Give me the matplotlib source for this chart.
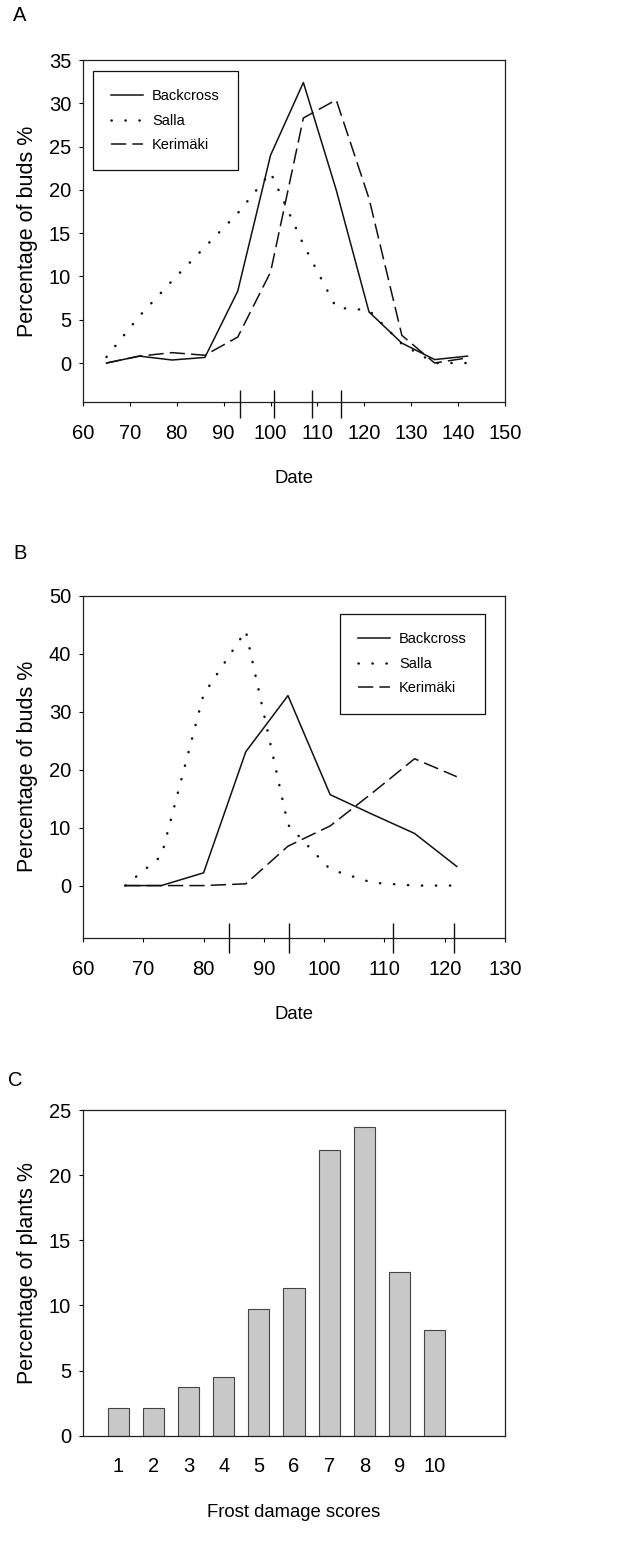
import matplotlib
matplotlib.use("Agg")
import matplotlib.pyplot as plt

plt.rcParams['font.family'] = ['Liberation Sans', 'DejaVu Sans']

# panel A - bud burst dates
dates_a = [65, 72, 79, 86, 93, 100, 107, 114, 121, 128, 135, 142]
backcross_a = [0, 0.8, 0.35, 0.65, 8.3, 24.0, 32.4, 20.0, 5.9, 2.3, 0.4, 0.8]
salla_a = [0.7, 5.4, 9.5, 13.4, 17.3, 22.0, 13.7, 6.4, 6.1, 2.2, 0, 0]
kerimaki_a = [0, 0.8, 1.2, 0.9, 3.0, 10.5, 28.3, 30.4, 19.0, 3.2, 0, 0.6]
marks_a = [93.5, 100.7, 108.8, 115]

# panel B
dates_b = [67, 73, 80, 87, 94, 101, 108, 115, 122]
backcross_b = [0, 0, 2.2, 23.1, 32.8, 15.7, 12.3, 9.0, 3.3]
salla_b = [0, 5.1, 33.0, 44.0, 10.5, 2.8, 0.5, 0, 0]
kerimaki_b = [0, 0, 0, 0.3, 6.8, 10.3, 16.0, 21.9, 18.8]
marks_b = [84.3, 94.2, 111.5, 121.5]

# panel C - frost damage
scores = [1, 2, 3, 4, 5, 6, 7, 8, 9, 10]
plants_pct = [2.1, 2.1, 3.7, 4.5, 9.7, 11.3, 21.9, 23.7, 12.6, 8.1]

W, H = 637, 1548
fig = plt.figure(figsize=(W / 100, H / 100), dpi=100)

def box(l, t, r, b):
    return [l / W, 1 - b / H, (r - l) / W, (b - t) / H]

def style(ax, xpad):
    for s in ax.spines.values():
        s.set_linewidth(0.9)
        s.set_color('#222222')
    ax.tick_params(labelsize=14.5, length=3, width=0.8, direction='out')
    ax.tick_params(axis='x', pad=xpad)
    ax.tick_params(axis='y', pad=5.5)

def lines(ax, x, bc, sa, ke):
    ax.plot(x, bc, color='#111111', lw=1.1, label='Backcross')
    ax.plot(x, sa, color='#111111', lw=1.8, linestyle=(0, (0.1, 5.5)),
            dash_capstyle='round', label='Salla')
    ax.plot(x, ke, color='#111111', lw=1.1, linestyle=(0, (10, 4)),
            label='Kerimäki')

def legend(ax, anchor):
    leg = ax.legend(loc='upper left', bbox_to_anchor=anchor, borderaxespad=0,
                    fancybox=False, edgecolor='#111111', framealpha=1,
                    fontsize=10.5, handlelength=2.2, handletextpad=0.6,
                    labelspacing=0.72, borderpad=1.25)
    leg.get_frame().set_linewidth(0.9)

def labels(ax, ylab, xlab, xy):
    ax.set_ylabel(ylab, fontsize=15.5)
    ax.yaxis.set_label_coords(-0.107, 0.5)
    ax.set_xlabel(xlab, fontsize=13.3, va='top')
    ax.xaxis.set_label_coords(0.5, xy)

# A
ax = fig.add_axes(box(83, 60, 505, 402))
lines(ax, dates_a, backcross_a, salla_a, kerimaki_a)
ax.vlines(marks_a, -0.047, 0.035, transform=ax.get_xaxis_transform(),
          color='#111111', lw=1.0, clip_on=False)
ax.set_xlim(60, 150)
ax.set_ylim(-4.5, 35)
ax.set_xticks(range(60, 151, 10))
ax.set_yticks(range(0, 36, 5))
style(ax, 13)
legend(ax, (0.024, 0.968))
labels(ax, 'Percentage of buds %', 'Date', -0.2)
fig.text(13 / W, 1 - 15.5 / H, 'A', fontsize=14.5, va='center', ha='left')

# B
ax = fig.add_axes(box(83, 596, 505, 937.7))
lines(ax, dates_b, backcross_b, salla_b, kerimaki_b)
ax.vlines(marks_b, -0.044, 0.043, transform=ax.get_xaxis_transform(),
          color='#111111', lw=1.0, clip_on=False)
ax.set_xlim(60, 130)
ax.set_ylim(-9, 50)
ax.set_xticks(range(60, 131, 10))
ax.set_yticks(range(0, 51, 10))
style(ax, 13)
legend(ax, (0.609, 0.947))
labels(ax, 'Percentage of buds %', 'Date', -0.2)
fig.text(13 / W, 1 - 553 / H, 'B', fontsize=14.5, va='center', ha='left')

# C
ax = fig.add_axes(box(83, 1110, 505, 1435.7))
ax.bar(scores, plants_pct, width=0.6, color='#c8c8c8', edgecolor='#444444',
       linewidth=0.8)
ax.set_xlim(0, 12)
ax.set_ylim(0, 25)
ax.set_xticks(scores)
ax.set_yticks(range(0, 26, 5))
style(ax, 13)
ax.tick_params(axis='x', length=0, pad=15)
labels(ax, 'Percentage of plants %', 'Frost damage scores', -0.21)
fig.text(8 / W, 1 - 1080 / H, 'C', fontsize=14.5, va='center', ha='left')

fig.savefig('out.png', dpi=100, facecolor='white')
